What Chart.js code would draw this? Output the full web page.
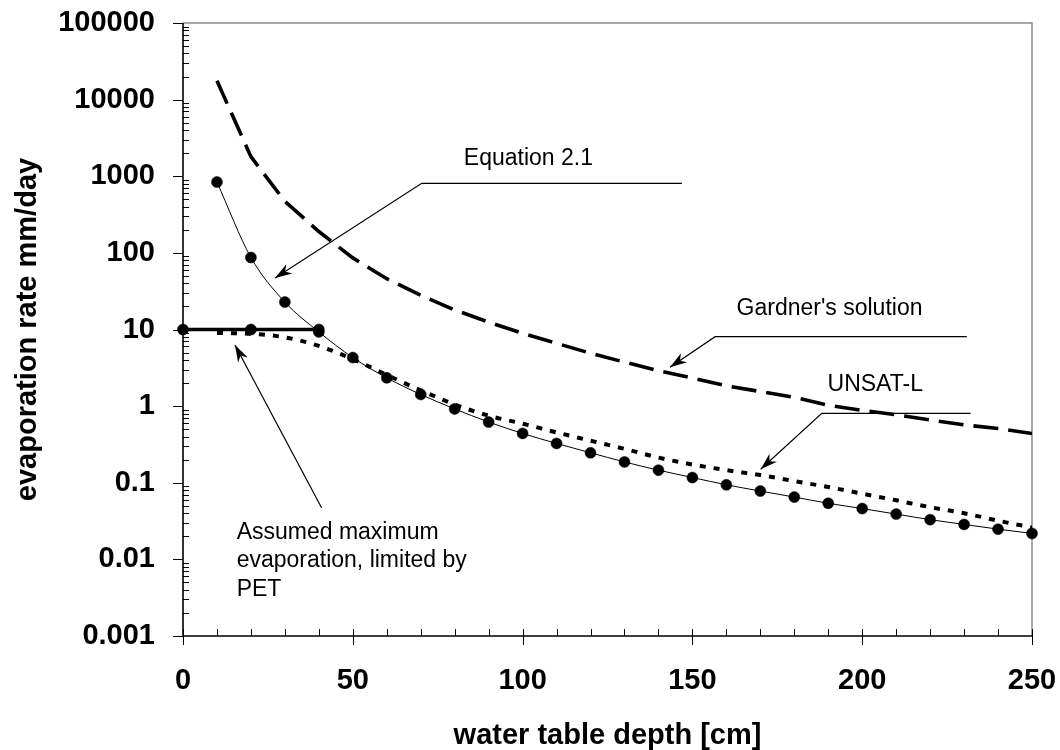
<!DOCTYPE html>
<html>
<head>
<meta charset="utf-8">
<title>Evaporation rate vs. water table depth</title>
<script src="https://cdn.jsdelivr.net/npm/chart.js@4.4.1/dist/chart.umd.min.js"></script>
<style>
  html, body { margin: 0; padding: 0; background: #ffffff; }
  #wrap { width: 1060px; height: 750px; }
</style>
</head>
<body>
<div id="wrap"><canvas id="chart" width="1060" height="750"></canvas></div>
<script>
// ---- data (depth in cm, evaporation rate in mm/day) ----
const depthCm = [10, 20, 30, 40, 50, 60, 70, 80, 90, 100, 110, 120, 130,
                 140, 150, 160, 170, 180, 190, 200, 210, 220, 230, 240, 250];

const equation21 = [840, 87, 22.8, 9.3, 4.3, 2.34, 1.42, 0.92, 0.62, 0.44,
                    0.326, 0.246, 0.187, 0.146, 0.117, 0.094, 0.078, 0.065,
                    0.054, 0.046, 0.039, 0.033, 0.0286, 0.0248, 0.0218];

const unsatL = [9.0, 8.8, 7.9, 6.1, 4.1, 2.55, 1.61, 1.05, 0.75, 0.59,
                0.454, 0.354, 0.277, 0.213, 0.173, 0.146, 0.126, 0.105,
                0.088, 0.072, 0.059, 0.048, 0.040, 0.032, 0.026];

const gardner = [17600, 1800, 470, 190, 86, 46, 28, 18, 12.5, 8.9,
                 6.6, 4.9, 3.75, 2.9, 2.32, 1.84, 1.55, 1.3,
                 1.03, 0.88, 0.77, 0.66, 0.57, 0.51, 0.44];

const petDepth = [0, 20, 40];
const petRate = [10, 10, 10];

const xTickValues = [0, 50, 100, 150, 200, 250];
const yTickValues = [0.001, 0.01, 0.1, 1, 10, 100, 1000, 10000, 100000];
const yTickLabels = ['0.001', '0.01', '0.1', '1', '10', '100', '1000', '10000', '100000'];

// ---- callout labels, anchored in data units (x: cm, y: mm/day) ----
const callouts = [
  { lines: ['Equation 2.1'], at: [82.7, 1403],
    shelf: [[146.9, 809], [70.3, 809]], tip: [27.1, 47.0] },
  { lines: ["Gardner's solution"], at: [163.0, 15.5],
    shelf: [[230.8, 8.05], [156.7, 8.05]], tip: [143.4, 3.21] },
  { lines: ['UNSAT-L'], at: [189.8, 1.59],
    shelf: [[231.9, 0.806], [188.1, 0.806]], tip: [170.1, 0.150] },
  { lines: ['Assumed maximum', 'evaporation, limited by', 'PET'], at: [15.8, 0.01845],
    shelf: [[40.8, 0.0472]], tip: [15.3, 6.28] }
];

const FONT = "'Liberation Sans', Arial, Helvetica, sans-serif";
const pts = (xs, ys) => xs.map((x, i) => ({ x: x, y: ys[i] }));

// frame, axis lines and tick marks (minor ticks inside, major ticks outside)
const axisFrame = {
  id: 'axisFrame',
  beforeDatasetsDraw(chart) {
    const { ctx, chartArea: { left, right, top, bottom }, scales: { x, y } } = chart;
    ctx.save();
    ctx.lineCap = 'butt';
    ctx.strokeStyle = '#8a8a8a';
    ctx.lineWidth = 1.5;
    ctx.beginPath();
    ctx.moveTo(left, top); ctx.lineTo(right, top); ctx.lineTo(right, bottom);
    ctx.stroke();

    ctx.strokeStyle = '#000';
    ctx.lineWidth = 1;
    ctx.beginPath();
    for (let e = -3; e <= 5; e++) {
      const p = Math.round(y.getPixelForValue(Math.pow(10, e))) + 0.5;
      ctx.moveTo(left - 10, p); ctx.lineTo(left, p);
      if (e < 5) {
        for (let m = 2; m <= 9; m++) {
          const q = Math.round(y.getPixelForValue(m * Math.pow(10, e))) + 0.5;
          ctx.moveTo(left, q); ctx.lineTo(left + 6, q);
        }
      }
    }
    for (let v = x.min; v <= x.max; v += 10) {
      const p = Math.round(x.getPixelForValue(v)) + 0.5;
      if (v % 50 === 0) { ctx.moveTo(p, bottom - 7); ctx.lineTo(p, bottom + 9); }
      else { ctx.moveTo(p, bottom - 7); ctx.lineTo(p, bottom); }
    }
    ctx.stroke();

    ctx.lineWidth = 1.6;
    ctx.beginPath();
    ctx.moveTo(left, top); ctx.lineTo(left, bottom); ctx.lineTo(right, bottom);
    ctx.stroke();
    ctx.restore();
  }
};

function arrowHead(ctx, fx, fy, tx, ty) {
  const a = Math.atan2(ty - fy, tx - fx);
  const L = 17, W = 5.5;
  const c = Math.cos(a), s = Math.sin(a);
  ctx.beginPath();
  ctx.moveTo(tx, ty);
  ctx.lineTo(tx - L * c + W * s, ty - L * s - W * c);
  ctx.lineTo(tx - 0.7 * L * c, ty - 0.7 * L * s);
  ctx.lineTo(tx - L * c - W * s, ty - L * s + W * c);
  ctx.closePath();
  ctx.fill();
}

// callout text with leader lines and arrows
const calloutLabels = {
  id: 'calloutLabels',
  afterDatasetsDraw(chart) {
    const { ctx, scales: { x, y } } = chart;
    const P = (d) => [x.getPixelForValue(d[0]), y.getPixelForValue(d[1])];
    ctx.save();
    ctx.fillStyle = '#000';
    ctx.strokeStyle = '#000';
    ctx.lineWidth = 1.2;
    ctx.font = '23px ' + FONT;
    ctx.textAlign = 'left';
    ctx.textBaseline = 'alphabetic';
    callouts.forEach(c => {
      const [tx0, ty0] = P(c.at);
      c.lines.forEach((t, i) => ctx.fillText(t, tx0, ty0 + i * 28.5));
      const path = c.shelf.map(P);
      const tip = P(c.tip);
      ctx.beginPath();
      ctx.moveTo(path[0][0], path[0][1]);
      for (let i = 1; i < path.length; i++) ctx.lineTo(path[i][0], path[i][1]);
      ctx.lineTo(tip[0], tip[1]);
      ctx.stroke();
      const from = path[path.length - 1];
      arrowHead(ctx, from[0], from[1], tip[0], tip[1]);
    });
    ctx.restore();
  }
};

// the plot box is set by the layout padding alone
const noScalePadding = s => {
  s.paddingTop = 0; s.paddingBottom = 0; s.paddingLeft = 0; s.paddingRight = 0;
};

new Chart(document.getElementById('chart'), {
  type: 'line',
  data: {
    datasets: [
      {
        label: "Gardner's solution",
        data: pts(depthCm, gardner),
        borderColor: '#000',
        borderWidth: 3.6,
        borderDash: [25, 10],
        pointRadius: 0,
        tension: 0
      },
      {
        label: 'UNSAT-L',
        data: pts(depthCm, unsatL),
        borderColor: '#000',
        borderWidth: 4,
        borderDash: [6, 8],
        pointRadius: 0,
        cubicInterpolationMode: 'monotone'
      },
      {
        label: 'Equation 2.1',
        data: pts(depthCm, equation21),
        borderColor: '#000',
        borderWidth: 1,
        pointRadius: 5.5,
        pointBorderWidth: 0.5,
        pointBackgroundColor: '#000',
        pointBorderColor: '#000',
        cubicInterpolationMode: 'monotone',
        clip: false
      },
      {
        label: 'PET limit',
        data: pts(petDepth, petRate),
        borderColor: '#000',
        borderWidth: 3.5,
        pointRadius: 5.5,
        pointBorderWidth: 0.5,
        pointBackgroundColor: '#000',
        pointBorderColor: '#000',
        tension: 0,
        clip: false
      }
    ]
  },
  options: {
    responsive: false,
    animation: false,
    devicePixelRatio: 1,
    events: [],
    layout: { padding: { top: 23, right: 28, bottom: 0, left: 0 } },
    plugins: { legend: { display: false }, tooltip: { enabled: false } },
    scales: {
      x: {
        type: 'linear',
        min: 0,
        max: 250,
        grid: { display: false, drawTicks: false },
        border: { display: false },
        afterBuildTicks: s => { s.ticks = xTickValues.map(v => ({ value: v })); },
        afterFit: s => { s.height = 114; noScalePadding(s); },
        ticks: {
          color: '#000',
          padding: 28,
          autoSkip: false,
          maxRotation: 0,
          font: { family: FONT, size: 29, weight: 'bold' }
        },
        title: {
          display: true,
          text: 'water table depth [cm]',
          color: '#000',
          padding: { top: 0, bottom: 0 },
          font: { family: FONT, size: 29, weight: 'bold', lineHeight: 1 }
        }
      },
      y: {
        type: 'logarithmic',
        min: 0.001,
        max: 100000,
        grid: { display: false, drawTicks: false },
        border: { display: false },
        afterBuildTicks: s => { s.ticks = yTickValues.map(v => ({ value: v })); },
        afterFit: s => { s.width = 183; noScalePadding(s); },
        ticks: {
          color: '#000',
          padding: 28,
          autoSkip: false,
          font: { family: FONT, size: 29, weight: 'bold' },
          callback: (v, i) => yTickLabels[i]
        },
        title: {
          display: true,
          text: 'evaporation rate mm/day',
          color: '#000',
          padding: { top: 13, bottom: 0 },
          font: { family: FONT, size: 29, weight: 'bold', lineHeight: 1 }
        }
      }
    }
  },
  plugins: [axisFrame, calloutLabels]
});
</script>
</body>
</html>
